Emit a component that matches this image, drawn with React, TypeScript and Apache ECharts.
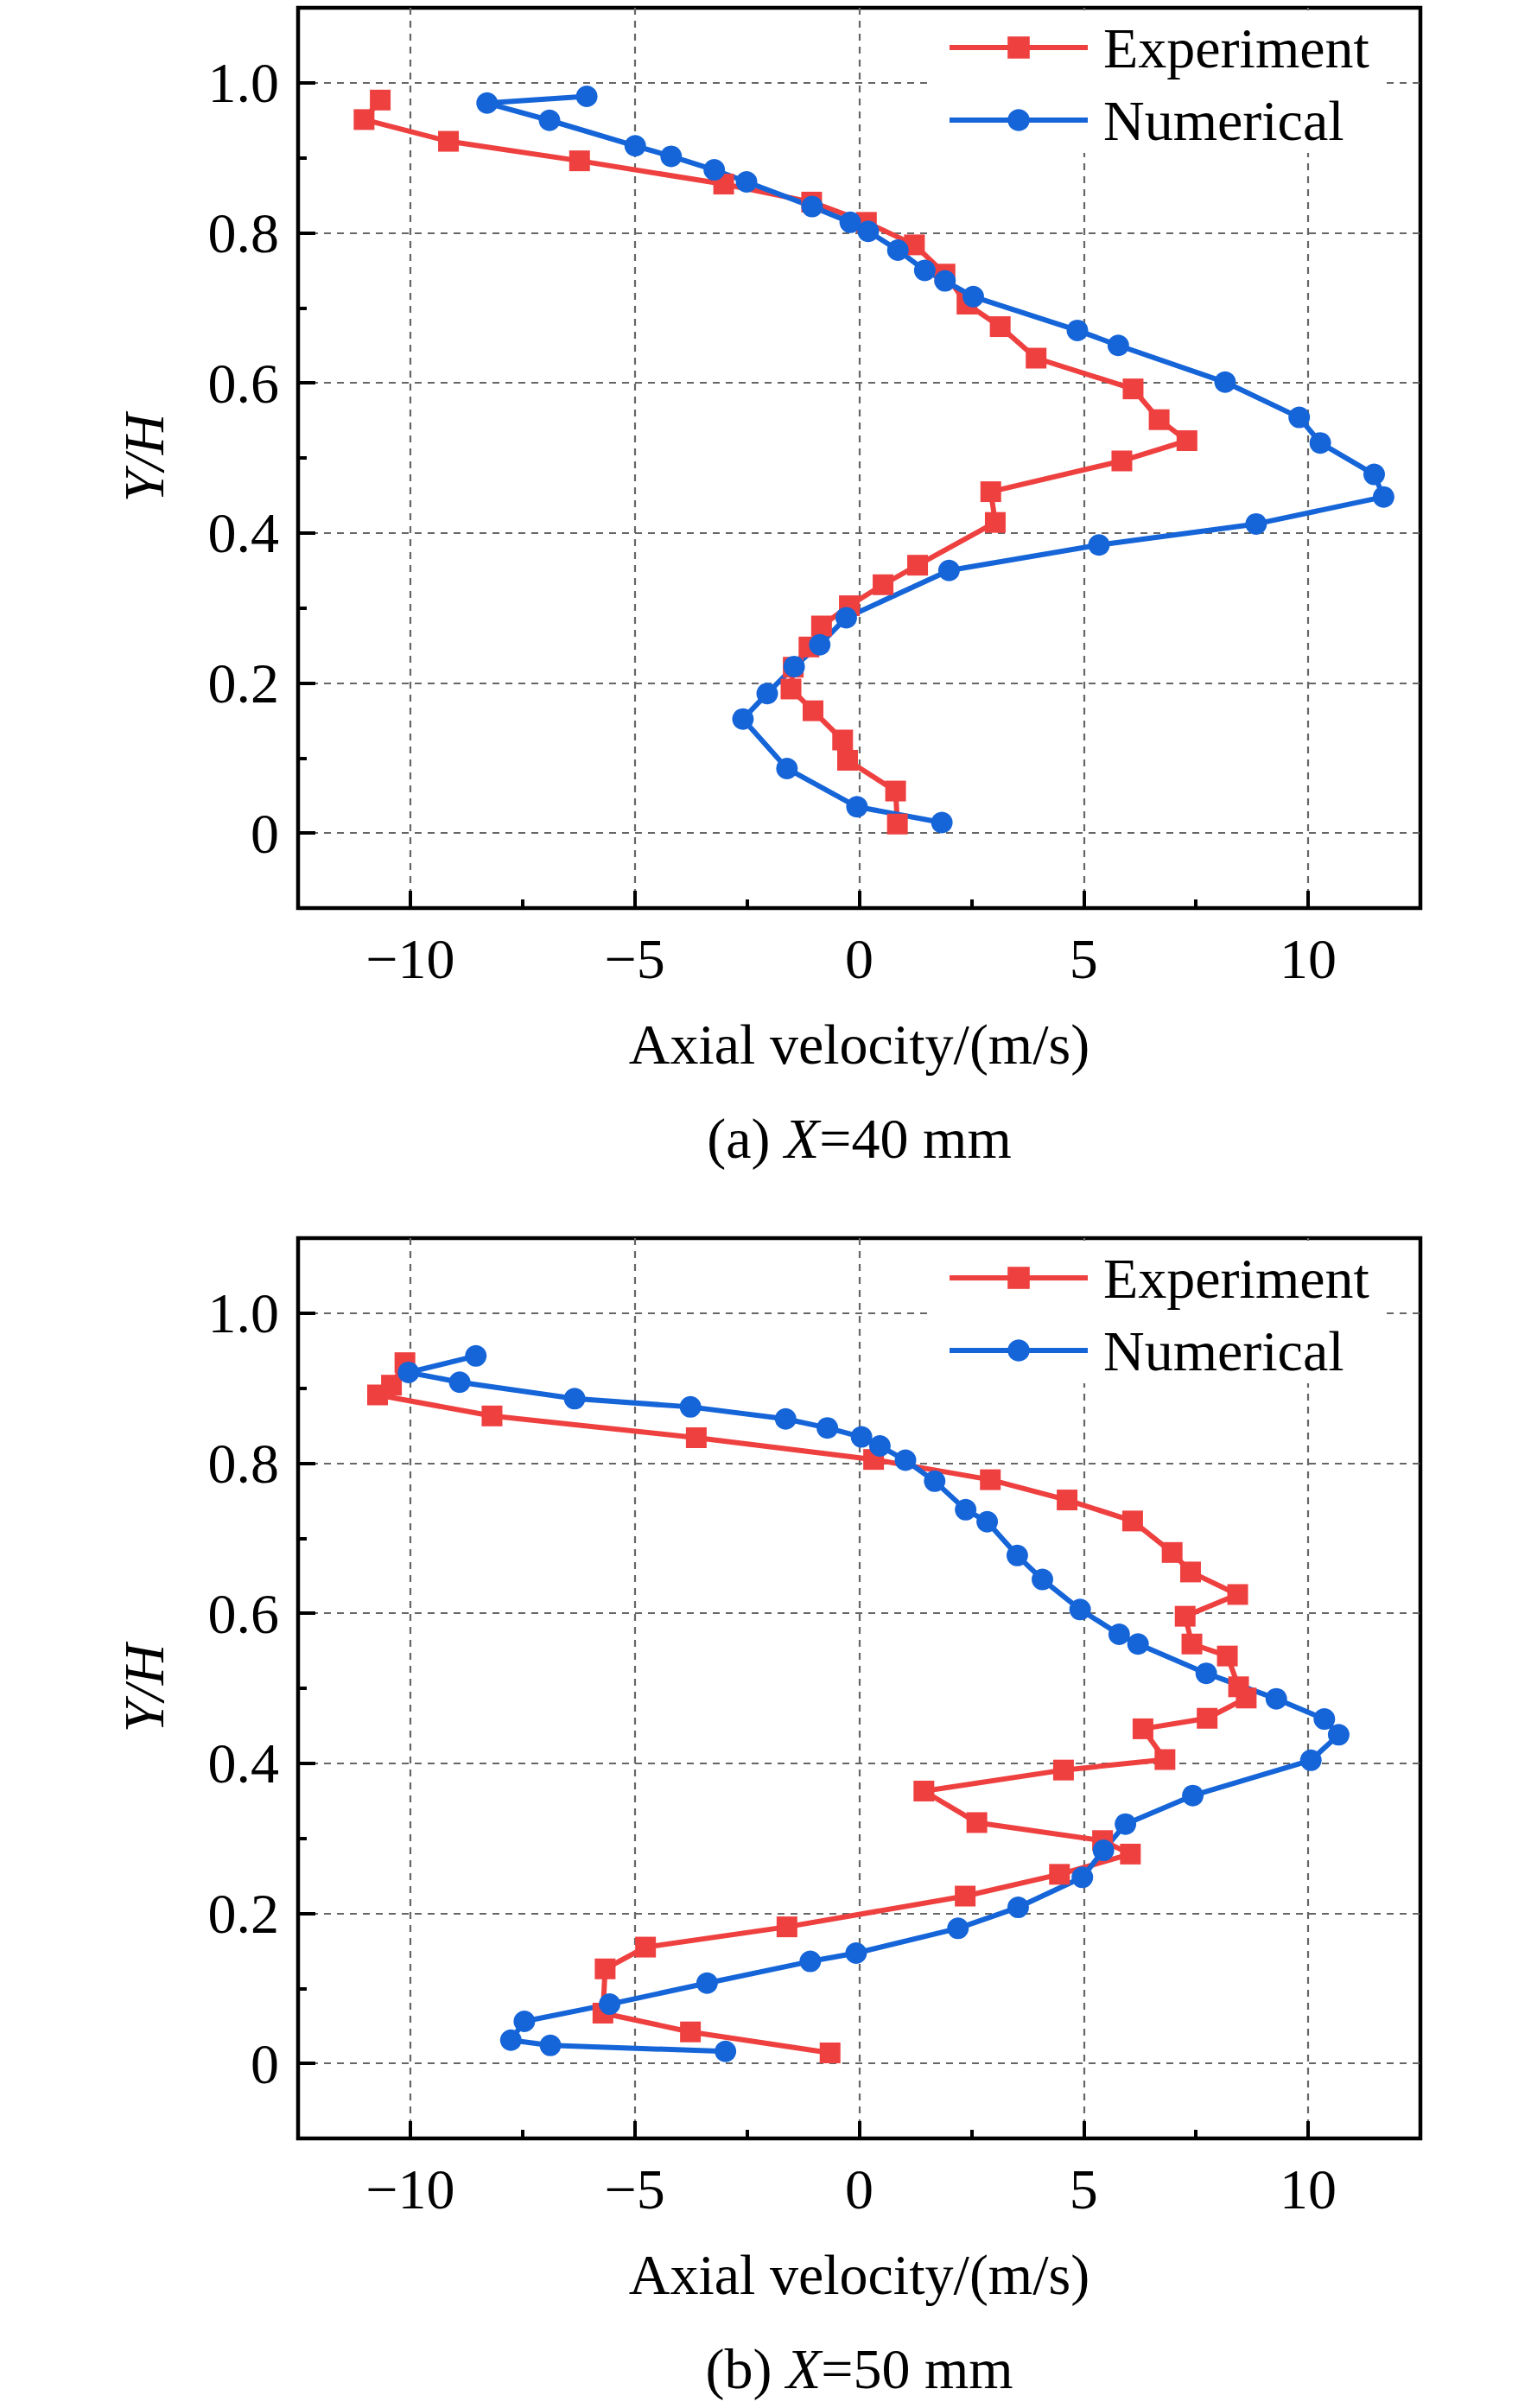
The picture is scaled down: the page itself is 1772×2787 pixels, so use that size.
import React, { useEffect, useRef } from 'react';
import * as echarts from 'echarts';

const FONT = "'Liberation Serif', 'Times New Roman', serif";
const RED = '#EF4040';
const BLUE = '#1565D9';

// tick labels
const xTickVals = [-10, -5, 0, 5, 10];
const xTickLabels = ['\u221210', '\u22125', '0', '5', '10'];
const yTickVals = [0, 0.2, 0.4, 0.6, 0.8, 1.0];
const yTickLabels = ['0', '0.2', '0.4', '0.6', '0.8', '1.0'];

const seriesNames = ['Experiment', 'Numerical'];
const captions = ['(a) {i|X}=40 mm', '(b) {i|X}=50 mm'];

// (a) X=40 mm : [axial velocity, Y/H]
const expA = [
  [-10.67, 0.977], [-11.03, 0.951], [-9.15, 0.922], [-6.23, 0.896], [-3.02, 0.865],
  [-1.06, 0.841], [0.16, 0.814], [1.23, 0.784], [1.91, 0.745], [2.40, 0.705],
  [3.14, 0.675], [3.94, 0.633], [6.10, 0.592], [6.68, 0.551], [7.30, 0.523],
  [5.85, 0.496], [2.93, 0.455], [3.03, 0.414], [1.30, 0.357], [0.53, 0.331],
  [-0.22, 0.303], [-0.84, 0.276], [-1.12, 0.248], [-1.47, 0.221], [-1.52, 0.192],
  [-1.03, 0.163], [-0.37, 0.124], [-0.26, 0.097], [0.81, 0.056], [0.85, 0.012],
];
const numA = [
  [-6.07, 0.982], [-8.29, 0.973], [-6.90, 0.950], [-4.99, 0.916], [-4.19, 0.902],
  [-3.23, 0.884], [-2.51, 0.868], [-1.05, 0.835], [-0.20, 0.814], [0.20, 0.802],
  [0.86, 0.777], [1.46, 0.750], [1.91, 0.736], [2.54, 0.715], [4.86, 0.670],
  [5.77, 0.650], [8.15, 0.601], [9.80, 0.554], [10.27, 0.520], [11.47, 0.478],
  [11.68, 0.448], [8.84, 0.412], [5.34, 0.384], [2.00, 0.350], [-0.29, 0.287],
  [-0.88, 0.251], [-1.45, 0.222], [-2.05, 0.186], [-2.59, 0.152], [-1.61, 0.086],
  [-0.05, 0.035], [1.84, 0.014],
];

// (b) X=50 mm
const expB = [
  [-10.12, 0.934], [-10.42, 0.904], [-10.73, 0.891], [-8.18, 0.863], [-3.63, 0.834],
  [0.32, 0.805], [2.92, 0.778], [4.63, 0.751], [6.09, 0.723], [6.97, 0.681],
  [7.38, 0.655], [8.43, 0.625], [7.26, 0.596], [7.41, 0.559], [8.20, 0.543],
  [8.45, 0.502], [8.62, 0.487], [7.75, 0.460], [6.32, 0.446], [6.81, 0.405],
  [4.55, 0.391], [1.44, 0.363], [2.62, 0.321], [5.42, 0.297], [6.04, 0.279],
  [4.46, 0.252], [2.36, 0.223], [-1.61, 0.182], [-4.76, 0.155], [-5.66, 0.126],
  [-5.71, 0.067], [-3.76, 0.042], [-0.65, 0.014],
];
const numB = [
  [-8.54, 0.943], [-10.04, 0.921], [-8.90, 0.908], [-6.34, 0.886], [-3.76, 0.875],
  [-1.64, 0.859], [-0.71, 0.847], [0.05, 0.835], [0.46, 0.823], [1.03, 0.804],
  [1.68, 0.776], [2.37, 0.738], [2.85, 0.722], [3.52, 0.677], [4.08, 0.645],
  [4.92, 0.605], [5.79, 0.572], [6.21, 0.559], [7.73, 0.520], [9.29, 0.486],
  [10.36, 0.459], [10.68, 0.438], [10.06, 0.404], [7.43, 0.357], [5.93, 0.319],
  [5.44, 0.284], [4.97, 0.248], [3.54, 0.208], [2.20, 0.180], [-0.07, 0.147],
  [-1.09, 0.136], [-3.39, 0.107], [-5.56, 0.079], [-7.46, 0.056], [-7.76, 0.031],
  [-6.88, 0.024], [-2.98, 0.016],
];

const panels = [
  { exp: expA, num: numA, top: 9 },
  { exp: expB, num: numB, top: 1433 },
];

const GRID_LEFT = 345;
const GRID_W = 1299;
const GRID_H = 1042;
const FS = 66;
const LW = 6;

const pick = (vals: number[], labels: string[]) => (v: number) => {
  const i = vals.findIndex((t) => Math.abs(t - v) < 1e-6);
  return i < 0 ? '' : labels[i];
};

const splitStyle = { show: true, showMinLine: false, showMaxLine: false, lineStyle: { color: '#666', width: 2.2, type: [8, 7] } };
const noLine = { show: false, onZero: false };

const App: React.FC = () => {
  const ref = useRef<HTMLDivElement>(null);

  useEffect(() => {
    if (!ref.current) return;
    const chart = echarts.init(ref.current, undefined, { renderer: 'svg' });

    const grid: any[] = [];
    const xAxis: any[] = [];
    const yAxis: any[] = [];
    const series: any[] = [];
    const legend: any[] = [];
    const graphic: any[] = [];

    panels.forEach((p, k) => {
      grid.push({
        left: GRID_LEFT, top: p.top, width: GRID_W, height: GRID_H,
        show: true, borderColor: '#000', borderWidth: 4.5, backgroundColor: 'transparent',
      });
      // major x
      xAxis.push({
        type: 'value', gridIndex: k, min: -12.5, max: 12.5, splitNumber: 5, position: 'bottom',
        axisLine: noLine,
        axisTick: { show: true, inside: true, length: 20, lineStyle: { color: '#000', width: 4 } },
        axisLabel: { margin: 25, fontSize: FS, fontFamily: FONT, color: '#000', formatter: pick(xTickVals, xTickLabels) },
        splitLine: splitStyle,
        name: 'Axial velocity/(m/s)', nameLocation: 'middle', nameGap: 124,
        nameTextStyle: { fontSize: FS, fontFamily: FONT, color: '#000' },
      });
      // minor x ticks
      xAxis.push({
        type: 'value', gridIndex: k, min: -12.5, max: 12.5, interval: 5, position: 'bottom',
        axisLine: noLine,
        axisTick: { show: true, inside: true, length: 10, lineStyle: { color: '#000', width: 4 } },
        axisLabel: { show: false }, splitLine: { show: false },
      });
      yAxis.push({
        type: 'value', gridIndex: k, min: -0.1, max: 1.1, splitNumber: 6, position: 'left',
        axisLine: noLine,
        axisTick: { show: true, inside: true, length: 20, lineStyle: { color: '#000', width: 4 } },
        axisLabel: { margin: 22, fontSize: FS, fontFamily: FONT, color: '#000', formatter: pick(yTickVals, yTickLabels) },
        splitLine: splitStyle,
        name: 'Y/H', nameLocation: 'middle', nameGap: 146,
        nameTextStyle: { fontSize: FS, fontFamily: FONT, fontStyle: 'italic', color: '#000' },
      });
      // minor y ticks
      yAxis.push({
        type: 'value', gridIndex: k, min: -0.1, max: 1.1, interval: 0.2, position: 'left',
        axisLine: noLine,
        axisTick: { show: true, inside: true, length: 10, lineStyle: { color: '#000', width: 4 } },
        axisLabel: { show: false }, splitLine: { show: false },
      });

      const xi = k * 2;
      series.push({
        name: seriesNames[0], type: 'line', xAxisIndex: xi, yAxisIndex: xi, data: p.exp,
        symbol: 'rect', symbolSize: 24, itemStyle: { color: RED }, lineStyle: { color: RED, width: LW },
      });
      series.push({
        name: seriesNames[1], type: 'line', xAxisIndex: xi, yAxisIndex: xi, data: p.num,
        symbol: 'circle', symbolSize: 25, itemStyle: { color: BLUE }, lineStyle: { color: BLUE, width: LW },
      });

      legend.push({
        data: seriesNames, orient: 'vertical', left: 1075, top: p.top + 3,
        padding: [10, 20, 5, 21], backgroundColor: '#fff',
        itemWidth: 160, itemHeight: 32, itemGap: 18,
        lineStyle: { width: LW },
        textStyle: { fontSize: FS, fontFamily: FONT, color: '#000', lineHeight: 66, padding: [0, 0, 0, 13] },
      });

      graphic.push({
        type: 'text', x: GRID_LEFT + GRID_W / 2, y: p.top + 1308,
        style: {
          text: captions[k], fill: '#000', font: `${FS}px ${FONT}`, align: 'center', verticalAlign: 'middle',
          rich: { i: { fontStyle: 'italic', fontSize: FS, fontFamily: FONT } },
        },
      });
    });

    chart.setOption({
      animation: false,
      backgroundColor: '#fff',
      grid, xAxis, yAxis, series, legend, graphic,
    });

    return () => chart.dispose();
  }, []);

  return <div ref={ref} style={{ position: 'absolute', left: 0, top: 0, width: 1772, height: 2787 }} />;
};

export default App;
